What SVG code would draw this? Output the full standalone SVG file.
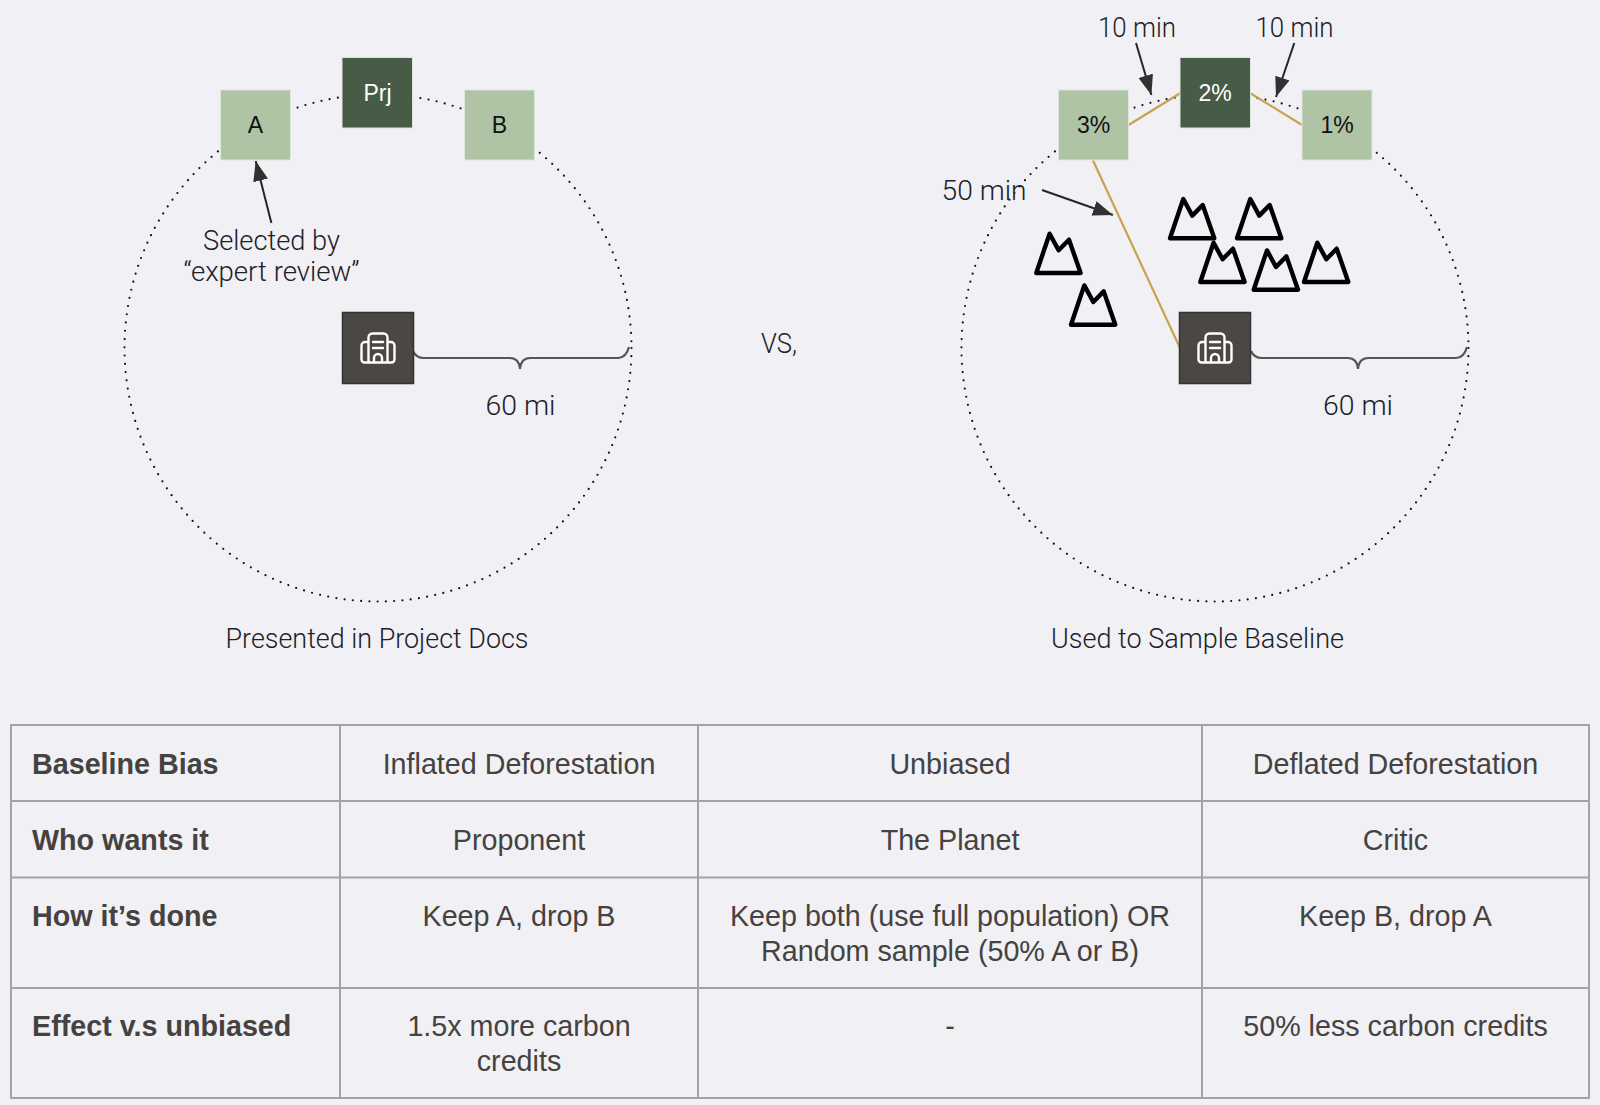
<svg xmlns="http://www.w3.org/2000/svg" width="1600" height="1105" viewBox="0 0 1600 1105">
<style>
.lb{font-family:"Roboto","Liberation Sans",sans-serif;font-weight:300;font-size:27px;fill:#1c2128;text-anchor:middle}
.nt{font-family:"Liberation Sans",Arial,sans-serif;font-size:23px;text-anchor:middle}
.lt{fill:#afc3a5;stroke:#dfe6da;stroke-width:1}.dk{fill:#465c47;stroke:#dfe6da;stroke-width:1}.bld{fill:#4b4745;stroke:#333;stroke-width:1.5}
.ci{fill:none;stroke:#111;stroke-width:2.2;stroke-dasharray:0 8.3;stroke-linecap:round}
.gold{fill:none;stroke:#c9a24e;stroke-width:2.2}
.ar{fill:none;stroke:#22262a;stroke-width:2;marker-end:url(#ah)}
.br{fill:none;stroke:#555;stroke-width:2.2}
.mt{fill:none;stroke:#000;stroke-width:4.4;stroke-linejoin:round;stroke-linecap:round}
.ic{fill:none;stroke:#fff;stroke-width:2.4;stroke-linejoin:round;stroke-linecap:round}
.gl{stroke:#a3a3a3;stroke-width:2;fill:none}
.tt{font-family:"Liberation Sans",Arial,sans-serif;font-size:28.7px;fill:#454240;text-anchor:middle}
.th{font-family:"Liberation Sans",Arial,sans-serif;font-size:28.7px;font-weight:700;fill:#454240}
</style>
<defs>
<marker id="ah" markerUnits="userSpaceOnUse" markerWidth="22" markerHeight="16" refX="20" refY="7.500" orient="auto"><path d="M0 0L20 7.500L0 15Z" fill="#2f322f"/></marker>
<path id="mtn" class="mt" d="M0 0L13.3-39.3L22.3-22.7L32.7-33.3L44.3 0Z"/>
<g id="bicon"><path class="ic" d="M-9.500 14.500V-10.500a4 4 0 0 1 4-4H5.500a4 4 0 0 1 4 4V14.500M-9.500-6h-3.500a3.500 3.500 0 0 0-3.500 3.500V11.500a3 3 0 0 0 3 3H13.500a3 3 0 0 0 3-3V-2.500a3.500 3.500 0 0 0-3.500-3.500H9.500M-5-6H5M-5 0H5M-4 14.500V10a4 4 0 0 1 8 0V14.500"/></g>
</defs>
<rect width="1600" height="1105" fill="#f0f0f5"/>
<g id="connectors">
<circle class="ci" cx="378" cy="348" r="253.500"/>
<circle class="ci" cx="1215" cy="348" r="253.500"/>
<path class="gold" d="M1128.500 125L1180.500 93M1250 93L1302 125M1093 160.500L1180 348"/>
<path class="ar" d="M271.400 223L255.700 161"/>
<path class="ar" d="M1136 43L1151.400 95"/>
<path class="ar" d="M1294.300 43L1276 97"/>
<path class="ar" d="M1042 190L1112.900 215"/>
<path class="br" d="M413 351Q416 358 424 358H510Q519 358 520 369Q521 358 530 358H618Q626 358 629 347"/>
<path class="br" d="M1251 351Q1254 358 1262 358H1348Q1357 358 1358 369Q1359 358 1368 358H1456Q1464 358 1467 347"/>
</g>
<g id="node-a"><rect class="lt" x="220.500" y="90" width="70" height="70"/><text class="nt" x="255.500" y="133" fill="#111">A</text></g>
<g id="node-prj"><rect class="dk" x="342" y="57.500" width="70.500" height="70.500"/><text class="nt" x="377.500" y="101" fill="#fff">Prj</text></g>
<g id="node-b"><rect class="lt" x="464.500" y="90" width="70" height="70"/><text class="nt" x="499.500" y="133" fill="#111">B</text></g>
<g id="node-building-left"><rect class="bld" x="342.500" y="312.500" width="71" height="71"/><use href="#bicon" x="378" y="348"/></g>
<g id="node-3pct"><rect class="lt" x="1058.500" y="90" width="70" height="70"/><text class="nt" x="1093.500" y="133" fill="#111">3%</text></g>
<g id="node-2pct"><rect class="dk" x="1180" y="57.500" width="70.500" height="70.500"/><text class="nt" x="1215" y="101" fill="#fff">2%</text></g>
<g id="node-1pct"><rect class="lt" x="1302" y="90" width="70" height="70"/><text class="nt" x="1337" y="133" fill="#111">1%</text></g>
<g id="node-building-right"><rect class="bld" x="1179.500" y="312.500" width="71" height="71"/><use href="#bicon" x="1215" y="348"/></g>
<g id="mountains">
<use href="#mtn" x="1170" y="238.300"/><use href="#mtn" x="1237" y="238.300"/><use href="#mtn" x="1200.300" y="282"/><use href="#mtn" x="1253.700" y="289.700"/><use href="#mtn" x="1304" y="282"/><use href="#mtn" x="1036.300" y="273"/><use href="#mtn" x="1071" y="324.700"/>
</g>
<g id="labels">
<text class="lb" x="271.500" y="249.700" textLength="137" lengthAdjust="spacingAndGlyphs">Selected by</text>
<text class="lb" x="271.500" y="280.700" textLength="176" lengthAdjust="spacingAndGlyphs">“expert review”</text>
<text class="lb" x="520.500" y="414.500" textLength="70" lengthAdjust="spacingAndGlyphs">60 mi</text>
<text class="lb" x="1358" y="414.500" textLength="70" lengthAdjust="spacingAndGlyphs">60 mi</text>
<text class="lb" x="779" y="352.500" textLength="36" lengthAdjust="spacingAndGlyphs">VS,</text>
<text class="lb" x="1137" y="36.500" textLength="78" lengthAdjust="spacingAndGlyphs">10 min</text>
<text class="lb" x="1294.500" y="36.500" textLength="78" lengthAdjust="spacingAndGlyphs">10 min</text>
<text class="lb" x="984" y="199.500" textLength="85" lengthAdjust="spacingAndGlyphs">50 min</text>
<text class="lb" x="377" y="647.700" textLength="303" lengthAdjust="spacingAndGlyphs">Presented in Project Docs</text>
<text class="lb" x="1197.500" y="647.700" textLength="293" lengthAdjust="spacingAndGlyphs">Used to Sample Baseline</text>
</g>
<g id="table">
<path class="gl" d="M11 725H1589V1098H11ZM11 801H1589M11 877.500H1589M11 988H1589M340 725V1098M698 725V1098M1202 725V1098"/>
<text class="th" x="32" y="774">Baseline Bias</text>
<text class="th" x="32" y="850">Who wants it</text>
<text class="th" x="32" y="926">How it’s done</text>
<text class="th" x="32" y="1036">Effect v.s unbiased</text>
<text class="tt" x="519" y="774">Inflated Deforestation</text>
<text class="tt" x="950" y="774">Unbiased</text>
<text class="tt" x="1395.500" y="774">Deflated Deforestation</text>
<text class="tt" x="519" y="850">Proponent</text>
<text class="tt" x="950" y="850">The Planet</text>
<text class="tt" x="1395.500" y="850">Critic</text>
<text class="tt" x="519" y="926">Keep A, drop B</text>
<text class="tt" x="950" y="926">Keep both (use full population) OR</text>
<text class="tt" x="950" y="960.500">Random sample (50% A or B)</text>
<text class="tt" x="1395.500" y="926">Keep B, drop A</text>
<text class="tt" x="519" y="1036">1.5x more carbon</text>
<text class="tt" x="519" y="1070.500">credits</text>
<text class="tt" x="950" y="1036">-</text>
<text class="tt" x="1395.500" y="1036">50% less carbon credits</text>
</g>
</svg>
